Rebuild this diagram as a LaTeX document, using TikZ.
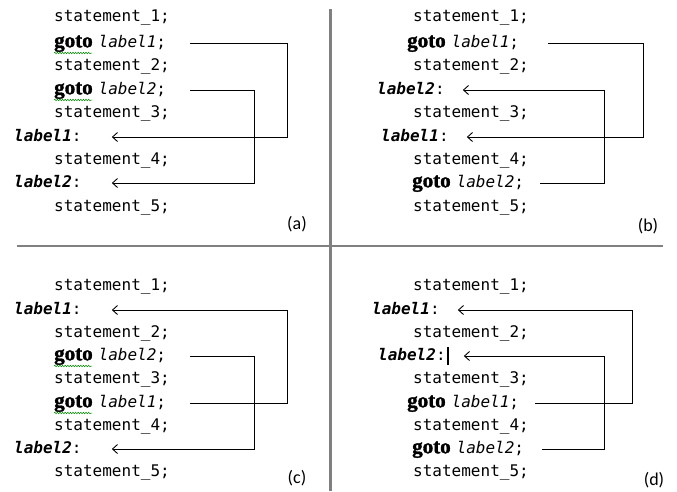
\documentclass[tikz,border=0pt]{standalone}
\usepackage{fontspec}
\setmonofont{DejaVu Sans Mono}
\newfontfamily\gotofont[BoldFeatures={FakeBold=1.6}]{Liberation Serif}
\newfontfamily\capfont{Carlito}
\usetikzlibrary{arrows.meta,decorations.pathmorphing}
\newcommand\gotokw{{\gotofont\bfseries\fontsize{21}{21}\selectfont goto}\hspace{6pt}}
\newcommand\mylab[1]{{\itshape #1}}
\newcommand\mydef[1]{{\bfseries\itshape #1}:}
\tikzset{
  st/.style={anchor=west, inner sep=0pt, font=\ttfamily\fontsize{16}{16}\selectfont, text height=12pt, text depth=3.5pt},
  captext/.style={inner sep=0pt, font=\capfont\fontsize{18}{18}\selectfont},
  arr/.style={draw=black, line width=0.8pt, -{Straight Barb[length=5pt,width=9pt,line width=0.9pt]}},
  sepline/.style={draw=black!50, line width=2.2pt},
  wavy/.style={draw=green!55!black, line width=0.5pt, decorate, decoration={snake, amplitude=0.8pt, segment length=2.6pt}}
}
\begin{document}
\begin{tikzpicture}[x=1pt,y=-1pt]
\useasboundingbox (0,0) rectangle (677,491);
% separators
\draw[sepline] (330.5,9) -- (330.5,491);
\draw[sepline] (17,246) -- (663,246);

% ---------- (a)
\node[st] (a1) at (54,17) {statement\_1;};
\node[st] (a2) at (54,43) {\gotokw\mylab{label1};};
\node[st] (a3) at (54,66) {statement\_2;};
\node[st] (a4) at (54,90) {\gotokw\mylab{label2};};
\node[st] (a5) at (54,113) {statement\_3;};
\node[st] (a6) at (14,137) {\mydef{label1}};
\node[st] (a7) at (54,160) {statement\_4;};
\node[st] (a8) at (14,183) {\mydef{label2}};
\node[st] (a9) at (54,207) {statement\_5;};
\node[captext] (capa) at (297,224) {(a)};
\draw[wavy] (54,53) -- (92,53);
\draw[wavy] (54,100) -- (92,100);
\coordinate (sa1) at (190,43);
\coordinate (va1) at (287,0);
\coordinate (sa2) at (190,90);
\coordinate (va2) at (254,0);
\draw[arr] (sa1) -- (va1 |- sa1) -- (va1 |- a6.east) -- ([xshift=30pt]a6.east);
\draw[arr] (sa2) -- (va2 |- sa2) -- (va2 |- a8.east) -- ([xshift=30pt]a8.east);

% ---------- (b)
\node[st] (b1) at (413,17) {statement\_1;};
\node[st] (b2) at (407,43) {\gotokw\mylab{label1};};
\node[st] (b3) at (413,66) {statement\_2;};
\node[st] (b4) at (377,90) {\mydef{label2}};
\node[st] (b5) at (413,113) {statement\_3;};
\node[st] (b6) at (381,137) {\mydef{label1}};
\node[st] (b7) at (413,160) {statement\_4;};
\node[st] (b8) at (412,183) {\gotokw\mylab{label2};};
\node[st] (b9) at (413,207) {statement\_5;};
\node[captext] (capb) at (648,226) {(b)};
\coordinate (sb1) at (548,43);
\coordinate (vb1) at (643,0);
\coordinate (sb2) at (540,183);
\coordinate (vb2) at (604,0);
\draw[arr] (sb1) -- (vb1 |- sb1) -- (vb1 |- b6.east) -- ([xshift=18pt]b6.east);
\draw[arr] (sb2) -- (vb2 |- sb2) -- (vb2 |- b4.east) -- ([xshift=18pt]b4.east);

% ---------- (c)
\node[st] (c1) at (54,286) {statement\_1;};
\node[st] (c2) at (14,310) {\mydef{label1}};
\node[st] (c3) at (54,333) {statement\_2;};
\node[st] (c4) at (54,356) {\gotokw\mylab{label2};};
\node[st] (c5) at (54,379) {statement\_3;};
\node[st] (c6) at (54,403) {\gotokw\mylab{label1};};
\node[st] (c7) at (54,426) {statement\_4;};
\node[st] (c8) at (14,449) {\mydef{label2}};
\node[st] (c9) at (54,472) {statement\_5;};
\node[captext] (capc) at (297,478) {(c)};
\draw[wavy] (54,366) -- (92,366);
\draw[wavy] (54,413) -- (92,413);
\coordinate (sc1) at (190,403);
\coordinate (vc1) at (287,0);
\coordinate (sc2) at (190,356);
\coordinate (vc2) at (254,0);
\draw[arr] (sc1) -- (vc1 |- sc1) -- (vc1 |- c2.east) -- ([xshift=30pt]c2.east);
\draw[arr] (sc2) -- (vc2 |- sc2) -- (vc2 |- c8.east) -- ([xshift=30pt]c8.east);

% ---------- (d)
\node[st] (d1) at (413,286) {statement\_1;};
\node[st] (d2) at (372,310) {\mydef{label1}};
\node[st] (d3) at (413,333) {statement\_2;};
\node[st] (d4) at (378,356) {\mydef{label2}};
\node[st] (d5) at (413,379) {statement\_3;};
\node[st] (d6) at (407,403) {\gotokw\mylab{label1};};
\node[st] (d7) at (413,426) {statement\_4;};
\node[st] (d8) at (412,449) {\gotokw\mylab{label2};};
\node[st] (d9) at (413,472) {statement\_5;};
\node[captext] (capd) at (654,480) {(d)};
\draw[line width=1.2pt] (448,347) -- (448,365);
\coordinate (sd1) at (535,403);
\coordinate (vd1) at (632,0);
\coordinate (sd2) at (542,449);
\coordinate (vd2) at (604,0);
\draw[arr] (sd1) -- (vd1 |- sd1) -- (vd1 |- d2.east) -- ([xshift=18pt]d2.east);
\draw[arr] (sd2) -- (vd2 |- sd2) -- (vd2 |- d4.east) -- ([xshift=18pt]d4.east);
\end{tikzpicture}
\end{document}
